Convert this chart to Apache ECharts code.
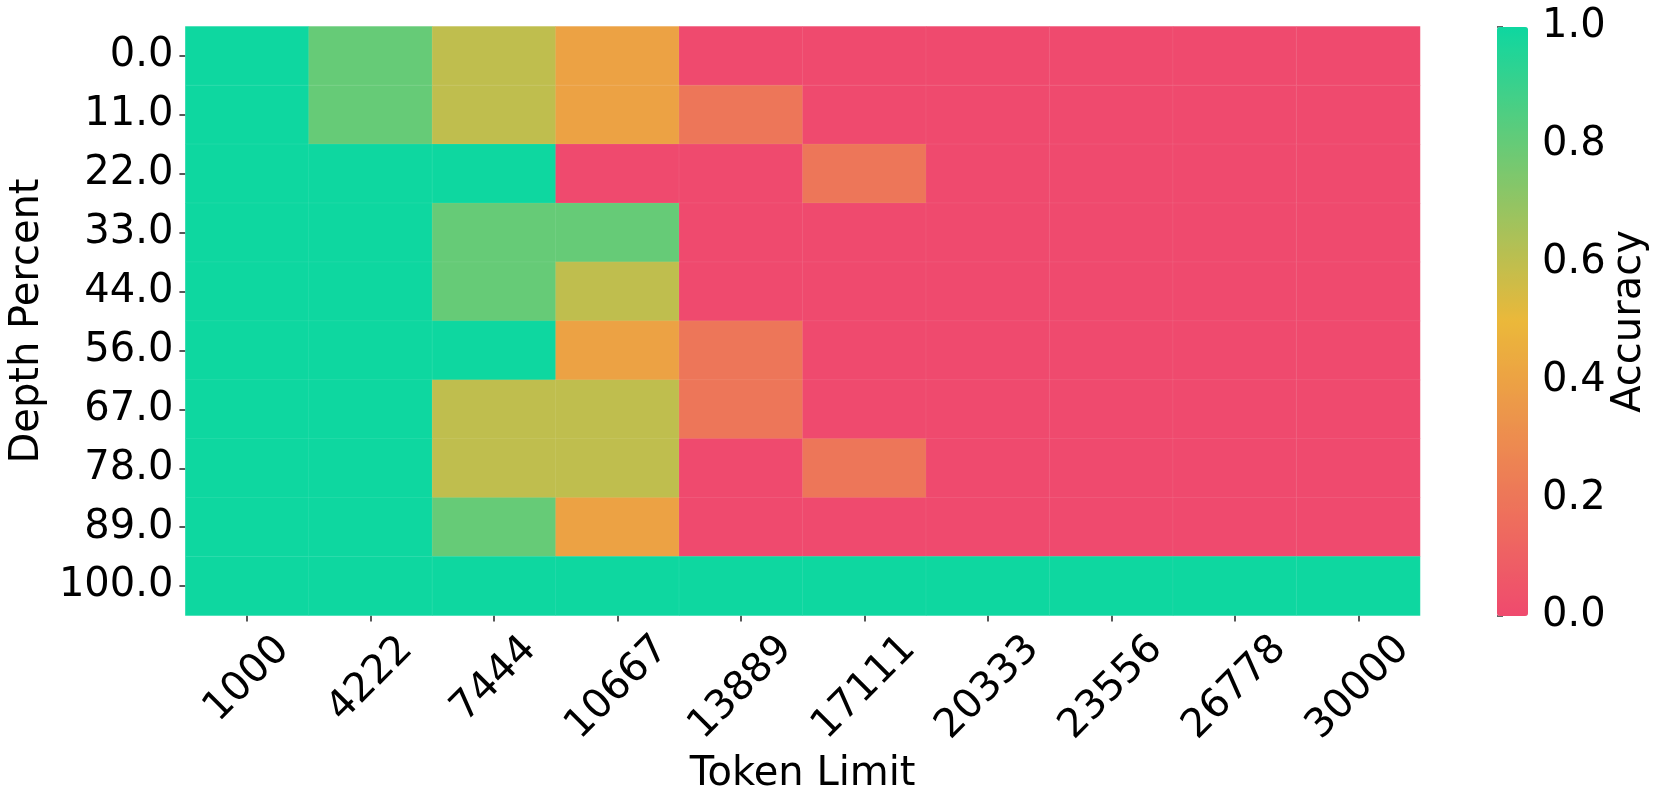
<!DOCTYPE html>
<html>
<head>
<meta charset="utf-8">
<script src="https://cdn.jsdelivr.net/npm/echarts@6/dist/echarts.min.js"></script>
<style>
html,body{margin:0;padding:0;background:#fff;}
#chart{width:1661px;height:805px;}
</style>
</head>
<body>
<div id="chart"></div>
<script>
// ---- data ----
const tokenLimits = ['1000','4222','7444','10667','13889','17111','20333','23556','26778','30000'];
const depthPercents = ['0.0','11.0','22.0','33.0','44.0','56.0','67.0','78.0','89.0','100.0'];
const depth0   = [1, 0.8, 0.6, 0.4, 0,   0,   0, 0, 0, 0];
const depth11  = [1, 0.8, 0.6, 0.4, 0.2, 0,   0, 0, 0, 0];
const depth22  = [1, 1,   1,   0,   0,   0.2, 0, 0, 0, 0];
const depth33  = [1, 1,   0.8, 0.8, 0,   0,   0, 0, 0, 0];
const depth44  = [1, 1,   0.8, 0.6, 0,   0,   0, 0, 0, 0];
const depth56  = [1, 1,   1,   0.4, 0.2, 0,   0, 0, 0, 0];
const depth67  = [1, 1,   0.6, 0.6, 0.2, 0,   0, 0, 0, 0];
const depth78  = [1, 1,   0.6, 0.6, 0,   0.2, 0, 0, 0, 0];
const depth89  = [1, 1,   0.8, 0.4, 0,   0,   0, 0, 0, 0];
const depth100 = [1, 1,   1,   1,   1,   1,   1, 1, 1, 1];
const accuracyRows = [depth0, depth11, depth22, depth33, depth44, depth56, depth67, depth78, depth89, depth100];
const colorbarTicks = [0, 0.2, 0.4, 0.6, 0.8, 1.0];

// ---- build ----
const heatData = [];
accuracyRows.forEach((row, yi) => row.forEach((v, xi) => heatData.push([xi, yi, v])));

const FONT = 'DejaVu Sans';
const FS = 40;
const cmap = ['#EF4A6E', '#EBB83A', '#0ED7A0'];

const chart = echarts.init(document.getElementById('chart'), null, {renderer: 'canvas'});
chart.setOption({
  animation: false,
  backgroundColor: '#ffffff',
  textStyle: {fontFamily: FONT},
  grid: [
    {left: 185, top: 26.5, width: 1235, height: 589, containLabel: false},
    {left: 1497, top: 27, width: 31, height: 589, containLabel: false}
  ],
  xAxis: [
    {
      type: 'category', gridIndex: 0, data: tokenLimits,
      name: 'Token Limit', nameLocation: 'middle', nameGap: 132,
      nameTextStyle: {fontSize: FS, color: '#000', fontFamily: FONT},
      axisLine: {show: false},
      axisTick: {show: true, alignWithLabel: true, length: 6, lineStyle: {color: '#222', width: 1.5}},
      axisLabel: {
        interval: 0, rotate: 45, align: 'center', verticalAlign: 'middle', margin: 64,
        color: '#000', fontSize: FS, fontFamily: FONT,
        formatter: v => v.length > 4 ? '{l|' + v + '}' : '{s|' + v + '}',
        rich: {
          s: {fontSize: FS, fontFamily: FONT, color: '#000'},
          l: {fontSize: FS, fontFamily: FONT, color: '#000', padding: [12, 12, 0, 0]}
        }
      },
      splitLine: {show: false}
    },
    {type: 'value', gridIndex: 1, min: 0, max: 1, show: false}
  ],
  yAxis: [
    {
      type: 'category', gridIndex: 0, data: depthPercents, inverse: true,
      name: 'Depth Percent', nameLocation: 'middle', nameGap: 131,
      nameTextStyle: {fontSize: FS, color: '#000', fontFamily: FONT},
      axisLine: {show: false},
      axisTick: {show: true, alignWithLabel: true, length: 6, lineStyle: {color: '#222', width: 1.5}},
      axisLabel: {interval: 0, margin: 12, color: '#000', fontSize: FS, fontFamily: FONT},
      splitLine: {show: false}
    },
    {
      type: 'value', gridIndex: 1, min: 0, max: 1, interval: 0.2, position: 'right',
      name: 'Accuracy', nameLocation: 'middle', nameGap: 82,
      nameTextStyle: {fontSize: FS, color: '#000', fontFamily: FONT},
      axisLine: {show: false},
      axisTick: {show: true, length: 6, lineStyle: {color: '#333', width: 1.5}},
      axisLabel: {margin: 14, color: '#000', fontSize: FS, fontFamily: FONT,
        formatter: v => colorbarTicks.some(t => Math.abs(t - v) < 1e-9) ? v.toFixed(1) : ''},
      splitLine: {show: false}
    }
  ],
  visualMap: {
    type: 'continuous', min: 0, max: 1, calculable: false, show: true,
    seriesIndex: 0, orient: 'vertical', left: 1497, top: 27,
    itemWidth: 31, itemHeight: 589, padding: 0, text: null, showLabel: false,
    handleSize: 0, indicatorSize: 0,
    handleStyle: {opacity: 0}, indicatorStyle: {opacity: 0},
    inRange: {color: cmap}, hoverLink: false
  },
  series: [
    {
      type: 'heatmap', xAxisIndex: 0, yAxisIndex: 0, data: heatData,
      itemStyle: {borderColor: 'rgba(255,255,255,0.07)', borderWidth: 1},
      emphasis: {disabled: true}
    },
    {type: 'scatter', xAxisIndex: 1, yAxisIndex: 1, data: [], silent: true}
  ]
});
</script>
</body>
</html>
